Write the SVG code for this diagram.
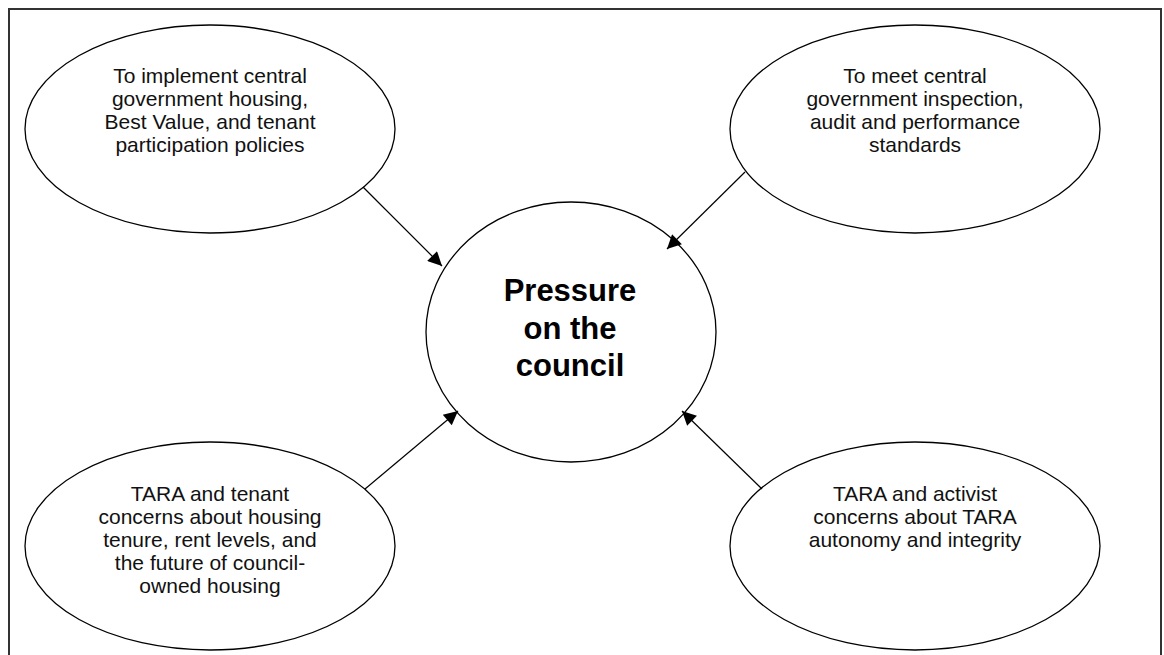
<svg xmlns="http://www.w3.org/2000/svg" width="1164" height="655" viewBox="0 0 1164 655">
  <style>
    .node { fill: #ffffff; stroke: #000000; stroke-width: 1.3; }
    .label { font-family: "Liberation Sans", Arial, sans-serif; font-size: 21px; fill: #111111; text-anchor: middle; }
    .title { font-family: "Liberation Sans", Arial, sans-serif; font-size: 31px; font-weight: bold; fill: #000000; text-anchor: middle; }
    .link { stroke: #000000; stroke-width: 1.2; fill: none; marker-end: url(#arrow); }
  </style>
  <defs>
    <marker id="arrow" viewBox="0 0 10 10" refX="10" refY="5" markerWidth="18" markerHeight="14" markerUnits="userSpaceOnUse" orient="auto">
      <path d="M0,0 L10,5 L0,10 Z" fill="#000000"/>
    </marker>
  </defs>

  <rect width="1164" height="655" fill="#ffffff"/>
  <!-- outer frame, open at the bottom -->
  <path d="M9,655 L9,9 L1161,9 L1161,655" fill="none" stroke="#333333" stroke-width="2"/>

  <g id="center">
    <ellipse class="node" cx="571" cy="332" rx="145" ry="130"/>
    <text class="title" x="570" y="301">Pressure</text>
    <text class="title" x="570" y="338.5">on the</text>
    <text class="title" x="570" y="376">council</text>
  </g>

  <g id="central-policy">
    <ellipse class="node" cx="210" cy="129" rx="185" ry="104"/>
    <text class="label" x="210" y="83">To implement central</text>
    <text class="label" x="210" y="106">government housing,</text>
    <text class="label" x="210" y="129">Best Value, and tenant</text>
    <text class="label" x="210" y="152">participation policies</text>
  </g>

  <g id="inspection">
    <ellipse class="node" cx="915" cy="129" rx="185" ry="104"/>
    <text class="label" x="915" y="83">To meet central</text>
    <text class="label" x="915" y="106">government inspection,</text>
    <text class="label" x="915" y="129">audit and performance</text>
    <text class="label" x="915" y="152">standards</text>
  </g>

  <g id="tenant-concerns">
    <ellipse class="node" cx="210" cy="546" rx="185" ry="104"/>
    <text class="label" x="210" y="501">TARA and tenant</text>
    <text class="label" x="210" y="524">concerns about housing</text>
    <text class="label" x="210" y="547">tenure, rent levels, and</text>
    <text class="label" x="210" y="570">the future of council-</text>
    <text class="label" x="210" y="593">owned housing</text>
  </g>

  <g id="activist-concerns">
    <ellipse class="node" cx="915" cy="546" rx="185" ry="104"/>
    <text class="label" x="915" y="501">TARA and activist</text>
    <text class="label" x="915" y="524">concerns about TARA</text>
    <text class="label" x="915" y="547">autonomy and integrity</text>
  </g>

  <g id="connectors">
    <line class="link" x1="363" y1="187" x2="442" y2="266"/>
    <line class="link" x1="745" y1="172" x2="667" y2="249"/>
    <line class="link" x1="365" y1="489" x2="458" y2="411"/>
    <line class="link" x1="762" y1="489" x2="682" y2="411"/>
  </g>
</svg>
